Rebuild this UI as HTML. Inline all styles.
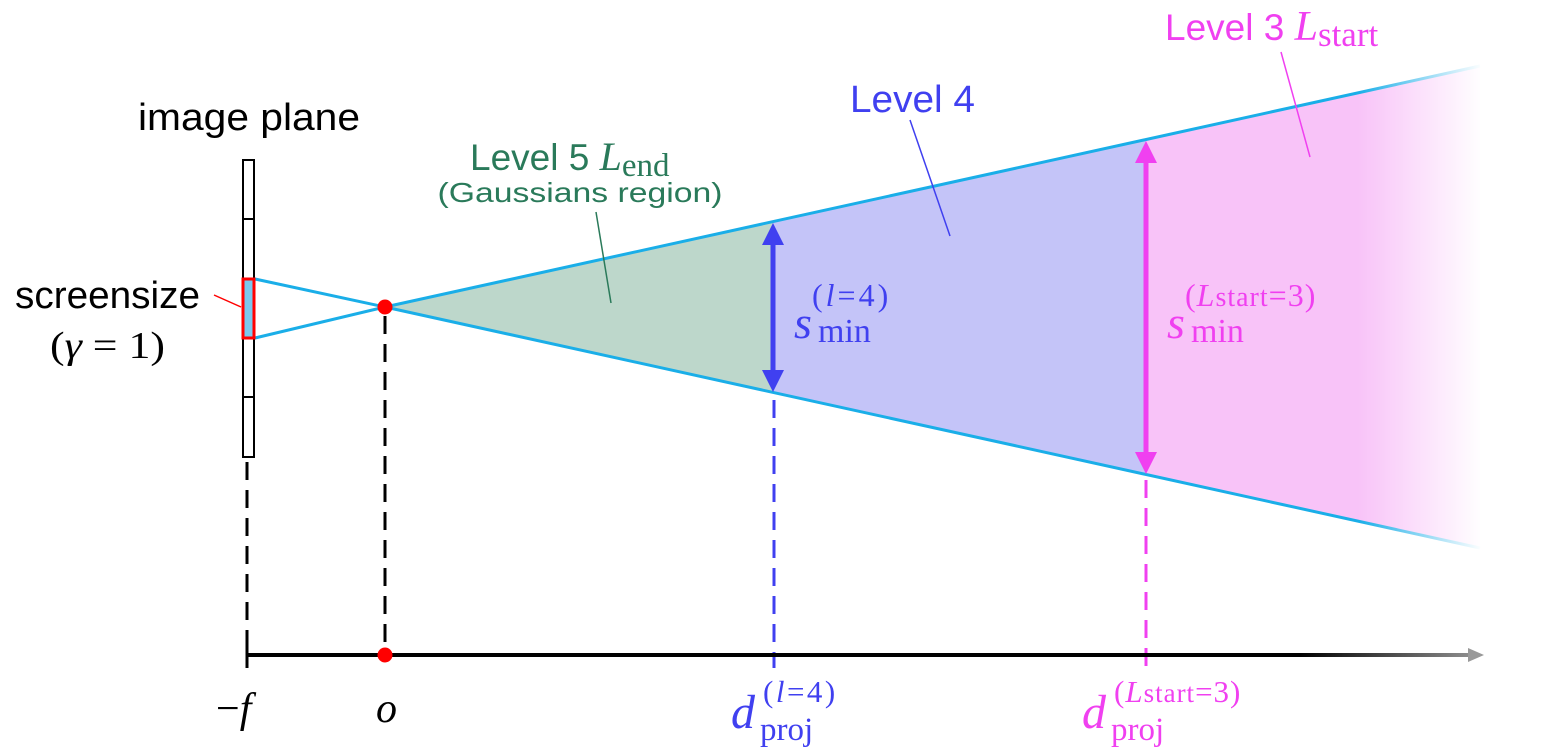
<!DOCTYPE html>
<html><head><meta charset="utf-8"><style>
html,body{margin:0;padding:0;background:#fff;}
svg{display:block;}
text{font-family:"Liberation Sans",sans-serif;}
.it{font-family:"Liberation Serif",serif;font-style:italic;}
.rm{font-family:"Liberation Serif",serif;}
</style></head><body>
<svg width="1561" height="752" viewBox="0 0 1561 752" xmlns="http://www.w3.org/2000/svg">
<defs>
<linearGradient id="fade" x1="0" y1="0" x2="1561" y2="0" gradientUnits="userSpaceOnUse">
<stop offset="0.87" stop-color="#fff" stop-opacity="1"/>
<stop offset="0.95" stop-color="#fff" stop-opacity="0"/>
</linearGradient>
<mask id="m" maskUnits="userSpaceOnUse" x="0" y="0" width="1561" height="752">
<rect x="0" y="0" width="1561" height="752" fill="url(#fade)"/>
</mask>
<linearGradient id="ax" x1="1300" y1="0" x2="1485" y2="0" gradientUnits="userSpaceOnUse">
<stop offset="0" stop-color="#000"/><stop offset="1" stop-color="#999"/>
</linearGradient>
</defs>
<polygon points="385,307 773,222 773,392" fill="#bdd7cb"/>
<polygon points="773,222 1146,140 1146,474 773,392" fill="#c4c4f8"/>
<g mask="url(#m)">
<polygon points="1146,140 1480,66 1480,548 1146,474" fill="#f8c3f8"/>
<line x1="385" y1="307" x2="1480" y2="66" stroke="#1aaee8" stroke-width="3"/>
<line x1="385" y1="307" x2="1480" y2="548" stroke="#1aaee8" stroke-width="3"/>
</g>
<line x1="255" y1="279" x2="385" y2="307" stroke="#1aaee8" stroke-width="3"/>
<line x1="255" y1="338" x2="385" y2="307" stroke="#1aaee8" stroke-width="3"/>
<rect x="243" y="160" width="11" height="297" fill="#fff" stroke="#000" stroke-width="2"/>
<line x1="243" y1="219" x2="254" y2="219" stroke="#000" stroke-width="2"/>
<line x1="243" y1="397" x2="254" y2="397" stroke="#000" stroke-width="2"/>
<rect x="243" y="279" width="11" height="59" fill="#7cc8ee" stroke="#f00" stroke-width="3"/>
<line x1="214" y1="295" x2="241" y2="307" stroke="#f00" stroke-width="1.5"/>
<g stroke-width="3" stroke-dasharray="18,10">
<line x1="247" y1="462" x2="247" y2="655" stroke="#000"/>
<line x1="385" y1="316" x2="385" y2="655" stroke="#000"/>
<line x1="774" y1="400" x2="774" y2="668" stroke="#4040f0"/>
<line x1="1146" y1="480" x2="1146" y2="668" stroke="#f040f0"/>
</g>
<line x1="247" y1="655" x2="1470" y2="655" stroke="url(#ax)" stroke-width="4"/>
<polygon points="1468,648 1484,655 1468,662" fill="#999"/>
<line x1="247" y1="642" x2="247" y2="668" stroke="#000" stroke-width="3"/>
<circle cx="385" cy="655" r="7.5" fill="#f00"/>
<circle cx="385" cy="307" r="7.5" fill="#f00"/>
<line x1="773" y1="240" x2="773" y2="375" stroke="#4040f0" stroke-width="5"/>
<polygon points="773,223 762,245 784,245" fill="#4040f0"/>
<polygon points="773,392 762,370 784,370" fill="#4040f0"/>
<line x1="1146" y1="158" x2="1146" y2="456" stroke="#f040f0" stroke-width="5"/>
<polygon points="1146,141 1135,163 1157,163" fill="#f040f0"/>
<polygon points="1146,474 1135,452 1157,452" fill="#f040f0"/>
<line x1="596" y1="212" x2="611" y2="303" stroke="#2a7a5a" stroke-width="1.5"/>
<line x1="910" y1="120" x2="950" y2="236" stroke="#4040f0" stroke-width="1.5"/>
<line x1="1281" y1="52" x2="1310" y2="157" stroke="#f040f0" stroke-width="1.5"/>
<text x="249" y="130" font-size="38" text-anchor="middle" fill="#000" textLength="222" lengthAdjust="spacingAndGlyphs">image plane</text>
<text x="15" y="308" font-size="38" fill="#000" textLength="185" lengthAdjust="spacingAndGlyphs">screensize</text>
<text x="50" y="358" font-size="38" class="rm" fill="#000" textLength="115" lengthAdjust="spacingAndGlyphs">(<tspan class="it">γ</tspan> = 1)</text>
<text x="470" y="170" font-size="37" fill="#2a7a5a">Level 5 <tspan class="it" font-size="40">L</tspan><tspan class="rm" font-size="33" dy="6">end</tspan></text>
<text x="580" y="202" font-size="28" text-anchor="middle" fill="#2a7a5a" textLength="285" lengthAdjust="spacingAndGlyphs">(Gaussians region)</text>
<text x="850" y="112" font-size="38" fill="#4040f0" textLength="125" lengthAdjust="spacingAndGlyphs">Level 4</text>
<text x="1165" y="40" font-size="37" fill="#f040f0">Level 3 <tspan class="it" font-size="42">L</tspan><tspan class="rm" font-size="35" dy="6">start</tspan></text>
<text x="794" y="338" class="it" font-size="46" fill="#4040f0">s</text>
<text x="818" y="342" class="rm" font-size="34" fill="#4040f0">min</text>
<text x="812" y="306" class="rm" font-size="32" letter-spacing="3" fill="#4040f0">(<tspan class="it">l</tspan>=4)</text>
<text x="1167" y="338" class="it" font-size="46" fill="#f040f0">s</text>
<text x="1191" y="342" class="rm" font-size="34" fill="#f040f0">min</text>
<text x="1185" y="306" class="rm" font-size="32" letter-spacing="1" fill="#f040f0">(<tspan class="it">L</tspan><tspan font-size="28">start</tspan>=3)</text>
<text x="216" y="722" class="rm" font-size="42" fill="#000">−<tspan class="it">f</tspan></text>
<text x="376" y="722" class="it" font-size="42" fill="#000">o</text>
<text x="731" y="728" class="it" font-size="48" fill="#4040f0">d</text>
<text x="760" y="740" class="rm" font-size="33" fill="#4040f0">proj</text>
<text x="763" y="702" class="rm" font-size="31" letter-spacing="2.5" fill="#4040f0">(<tspan class="it">l</tspan>=4)</text>
<text x="1082" y="728" class="it" font-size="48" fill="#f040f0">d</text>
<text x="1111" y="740" class="rm" font-size="33" fill="#f040f0">proj</text>
<text x="1114" y="702" class="rm" font-size="31" letter-spacing="1" fill="#f040f0">(<tspan class="it">L</tspan><tspan font-size="27">start</tspan>=3)</text>
</svg>
</body></html>
